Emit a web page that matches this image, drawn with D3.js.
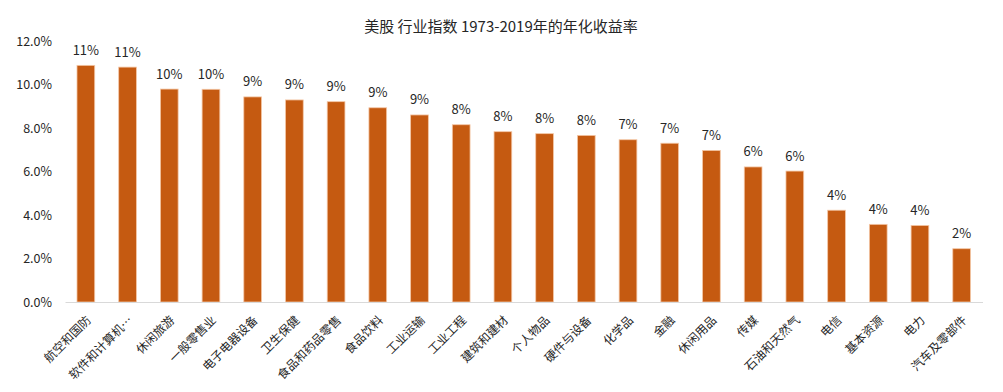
<!DOCTYPE html>
<html><head><meta charset="utf-8">
<script src="https://cdn.jsdelivr.net/npm/d3@7"></script>
<style>
html,body{margin:0;padding:0;background:#fff;}
svg text{font-family:"Noto Sans CJK SC","Noto Sans",sans-serif;fill:#262626;}
</style></head>
<body><svg id="chart" width="1003" height="392"></svg>
<script>
const title = "美股 行业指数 1973-2019年的年化收益率";
const categories = ["航空和国防","软件和计算机…","休闲旅游","一般零售业","电子电器设备","卫生保健","食品和药品零售","食品饮料","工业运输","工业工程","建筑和建材","个人物品","硬件与设备","化学品","金融","休闲用品","传媒","石油和天然气","电信","基本资源","电力","汽车及零部件"];
const values = [10.88,10.80,9.79,9.78,9.43,9.29,9.21,8.93,8.60,8.15,7.83,7.74,7.66,7.46,7.30,6.97,6.21,6.02,4.22,3.57,3.52,2.45];
const yTicks = [0,2,4,6,8,10,12];

const svg = d3.select("#chart");
const margin = {left:65, right:20, top:41, bottom:90};
const W = 1003, H = 392;
const x = d3.scaleBand().domain(categories).range([65, 982.5]).paddingInner(0.575).paddingOuter(0.2875);
const y = d3.scaleLinear().domain([0,12]).range([302, 41]);

svg.append("text").attr("x", 501).attr("y", 25).attr("text-anchor","middle")
  .attr("dominant-baseline","central").style("font-size","15px").text(title);

// y axis labels
const yAxis = d3.axisLeft(y).tickValues(yTicks).tickFormat(d => d.toFixed(1) + "%").tickSize(0).tickPadding(13);
const gy = svg.append("g").attr("transform","translate(65,0)").call(yAxis);
gy.select(".domain").remove();
gy.selectAll("text").style("font-size","12.5px").attr("fill","#262626");

// bars
svg.append("g").selectAll("rect").data(values).join("rect")
  .attr("x", (d,i) => x(categories[i]))
  .attr("width", x.bandwidth())
  .attr("y", d => y(d))
  .attr("height", d => y(0) - y(d))
  .attr("fill", "#C55A11")
  .attr("stroke", "#F4C7A6")
  .attr("stroke-width", 0.8);

// x axis
const xAxis = d3.axisBottom(x).tickSize(0).tickPadding(0);
const gx = svg.append("g").attr("transform","translate(0,302)").call(xAxis);
gx.select(".domain").attr("stroke","#d9d9d9").attr("stroke-width",1.2);
gx.selectAll("text")
  .style("font-size","12px")
  .attr("fill","#262626")
  .attr("text-anchor","end")
  .attr("dominant-baseline","central")
  .attr("y", 0).attr("dy", null)
  .attr("transform","translate(2,15) rotate(-45)");

// value labels
svg.append("g").selectAll("text").data(values).join("text")
  .attr("x", (d,i) => x(categories[i]) + x.bandwidth()/2)
  .attr("y", d => y(d) - 16)
  .attr("text-anchor","middle")
  .attr("dominant-baseline","central")
  .style("font-size","13px")
  .text(d => Math.round(d) + "%");
</script></body></html>
